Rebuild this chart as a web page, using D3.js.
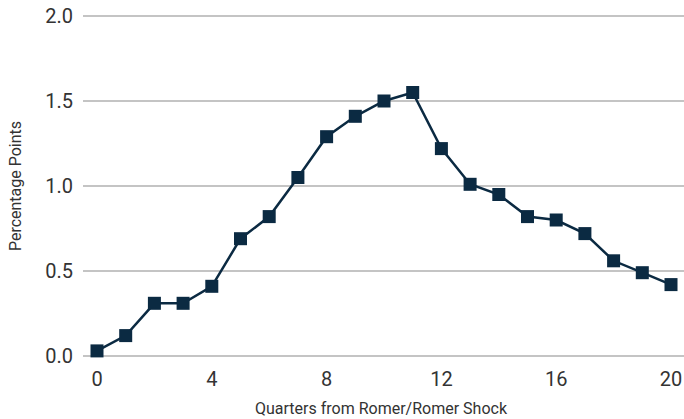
<!DOCTYPE html>
<html><head><meta charset="utf-8">
<script src="https://cdn.jsdelivr.net/npm/d3@7"></script>
<style>body{margin:0;background:#fff}svg{display:block}text{font-family:"Liberation Sans Narrow","Roboto","DejaVu Sans Condensed",sans-serif;fill:#333}</style>
</head><body><svg id="c" width="684" height="419"></svg>
<script>
const quarters = d3.range(0, 21);
const values = [0.03,0.12,0.31,0.31,0.41,0.69,0.82,1.05,1.29,1.41,1.50,1.55,1.22,1.01,0.95,0.82,0.80,0.72,0.56,0.49,0.42];
const yTicks = [0, 0.5, 1.0, 1.5, 2.0];
const xTicks = [0, 4, 8, 12, 16, 20];
const xTitle = "Quarters from Romer/Romer Shock";
const yTitle = "Percentage Points";

const svg = d3.select("#c");
const x = d3.scaleLinear().domain([0,20]).range([97,671]);
const y = d3.scaleLinear().domain([0,2]).range([356,16]);

svg.append("g").selectAll("line").data(yTicks).join("line")
  .attr("x1",83).attr("x2",684).attr("y1",d=>y(d)).attr("y2",d=>y(d))
  .attr("stroke","#c4c4c4").attr("stroke-width",2);

svg.append("g").selectAll("text").data(yTicks).join("text")
  .attr("x",73).attr("y",d=>y(d)).attr("dy","0.35em").attr("text-anchor","end")
  .attr("font-size",20).text(d=>d3.format(".1f")(d));

svg.append("g").selectAll("text").data(xTicks).join("text")
  .attr("x",d=>x(d)).attr("y",386).attr("text-anchor","middle")
  .attr("font-size",20).text(d=>d);

svg.append("text").attr("x",381).attr("y",414).attr("text-anchor","middle")
  .attr("font-size",16).text(xTitle);
svg.append("text").attr("transform","translate(21,186) rotate(-90)").attr("text-anchor","middle")
  .attr("font-size",16).text(yTitle);

const line = d3.line().x((d,i)=>x(quarters[i])).y(d=>y(d));
svg.append("path").datum(values).attr("d",line).attr("fill","none")
  .attr("stroke","#0b2a42").attr("stroke-width",2.5);
svg.append("g").selectAll("rect").data(values).join("rect")
  .attr("x",(d,i)=>x(quarters[i])-6.5).attr("y",d=>y(d)-6.5)
  .attr("width",13).attr("height",13).attr("fill","#0b2a42");
</script></body></html>
